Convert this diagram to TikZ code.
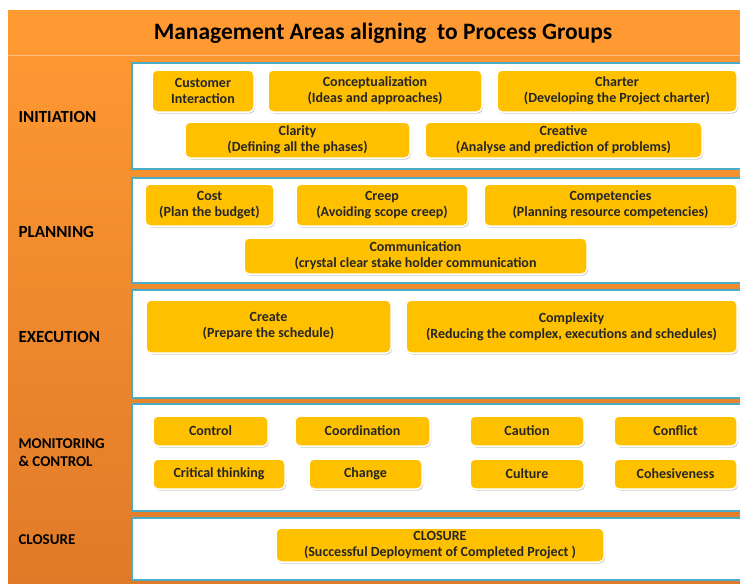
\documentclass[tikz,border=0pt]{standalone}
\usepackage{fontspec}
\setmainfont{Carlito}
\usetikzlibrary{positioning,shadows}
\definecolor{bgorange}{HTML}{FF9A33}
\definecolor{bgdark}{HTML}{E07A28}
\definecolor{panelblue}{HTML}{4BACC6}
\definecolor{boxyellow}{HTML}{FFC000}
\tikzset{
    every node/.append style={font=\fontsize{14}{16}\selectfont\bfseries},
    panel/.style={draw=panelblue, line width=2pt, fill=white},
    area/.style={fill=boxyellow, draw=white, line width=1.5pt, rounded corners=5pt,
        align=center, inner sep=1pt, text=black!85,
        drop shadow={shadow xshift=1pt, shadow yshift=-1.5pt, opacity=0.35, fill=black!60}},
    wh/.style 2 args={minimum width=#1, minimum height=#2},
    grouplabel/.style={anchor=west, align=left, font=\fontsize{17}{18}\selectfont\bfseries}}

\begin{document}
\begin{tikzpicture}[x=1pt,y=1pt]
    \useasboundingbox (0,0) rectangle (740,-584);
    % background
    \shade[top color=bgorange, bottom color=bgdark] (8,-10) rectangle (740,-584);
    \fill[bgorange] (8,-10) rectangle (740,-55);
    \draw[white, opacity=0.4, line width=1pt] (8,-55) -- (740,-55);
    \node (title) at (383,-33) {\fontsize{23.5}{26}\selectfont\bfseries Management Areas aligning\ \ to Process Groups};

    % panels
    \draw[panel] (132,-63) rectangle (745,-169);
    \draw[panel] (132,-178) rectangle (745,-283);
    \draw[panel] (132,-290) rectangle (745,-398);
    \draw[panel] (132,-404) rectangle (745,-511);
    \draw[panel] (132,-518) rectangle (745,-580);

    % process groups
    \node[grouplabel] (init) at (15,-117) {INITIATION};
    \node[grouplabel] (plan) at (15,-232) {PLANNING};
    \node[grouplabel] (exec) at (15,-337) {EXECUTION};
    \node[grouplabel, font=\fontsize{15}{18}\selectfont\bfseries] (moni) at (15,-453) {MONITORING\\\& CONTROL};
    \node[grouplabel, font=\fontsize{15}{18}\selectfont\bfseries] (clos) at (15,-540) {CLOSURE};

    % initiation
    \node[area, wh={102}{42}] (cust) at (203,-91) {Customer\\Interaction};
    \node[area, wh={214}{42}] (concept) at (375,-91) {Conceptualization\\(Ideas and approaches)};
    \node[area, wh={240}{42}] (charter) at (617,-91) {Charter\\(Developing the Project charter)};
    \node[area, wh={225}{36}] (clarity) at (297.5,-140) {Clarity\\(Defining all the phases)};
    \node[area, wh={277}{36}] (creative) at (563.5,-140) {Creative\\(Analyse and prediction of problems)};

    % planning
    \node[area, wh={129}{42}] (cost) at (209.5,-205) {Cost\\(Plan the budget)};
    \node[area, wh={172}{42}] (creep) at (382,-205) {Creep\\(Avoiding scope creep)};
    \node[area, wh={253}{42}] (compet) at (610.5,-205) {Competencies\\(Planning resource competencies)};
    \node[area, wh={343}{36}] (comm) at (415.5,-256) {Communication\\(crystal clear stake holder communication};

    % execution
    \node[area, wh={245}{53}] (create) at (268.5,-326.5) {Create\\(Prepare the schedule)};
    \node[area, wh={331}{53}] (complex) at (571.5,-326.5) {Complexity\\(Reducing the complex, executions and schedules)};

    % monitoring & control
    \foreach \name/\x/\w/\txt in {control/210.5/115/Control, coord/362.5/135/Coordination,
        caution/527/114/Caution, conflict/675.5/123/Conflict}
        \node[area, wh={\w}{30}] (\name) at (\x,-431) {\txt};
    \foreach \name/\x/\w/\txt in {critical/219/132/Critical thinking, change/365.5/113/Change,
        culture/527/114/Culture, cohes/675.5/123/Cohesiveness}
        \node[area, wh={\w}{30}] (\name) at (\x,-474) {\txt};

    % closure
    \node[area, wh={328}{34}] (closing) at (440,-545) {CLOSURE\\(Successful Deployment of Completed Project )};
\end{tikzpicture}
\end{document}
